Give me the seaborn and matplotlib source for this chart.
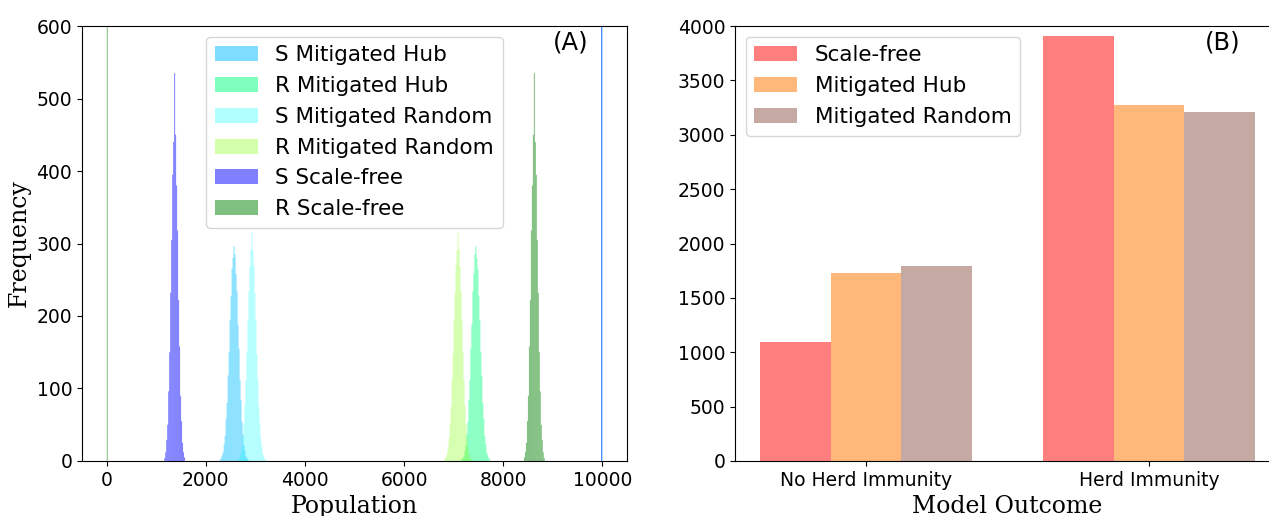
import numpy as np
import pandas as pd
import matplotlib
matplotlib.use("Agg")
import matplotlib.pyplot as plt
from matplotlib.patches import Patch
import seaborn as sns

# ---------------- data: panel (A) histograms (bin width 20) ----------------
bin_width = 20
# S / R distributions for runs that reached herd immunity
s_hub_start = 2270
s_hub_counts = [2, 4, 8, 12, 23, 35, 58, 80, 118, 150, 195, 228, 265, 280, 296,
                285, 258, 234, 188, 155, 112, 84, 54, 37, 21, 14, 6, 4, 2]
r_hub_start = 7150
r_hub_counts = [2, 4, 6, 14, 21, 37, 54, 84, 112, 155, 188, 234, 258, 285, 296,
                280, 265, 228, 195, 150, 118, 80, 58, 35, 23, 12, 8, 4, 2]
s_rand_start = 2630
s_rand_counts = [1, 3, 6, 11, 19, 32, 51, 77, 111, 150, 193, 234, 268, 292, 315,
                 290, 270, 232, 195, 148, 113, 75, 52, 31, 20, 10, 6, 3, 1]
r_rand_start = 6790
r_rand_counts = [1, 3, 6, 10, 20, 31, 52, 75, 113, 148, 195, 232, 270, 290, 315,
                 292, 268, 234, 193, 150, 111, 77, 51, 32, 19, 11, 6, 3, 1]
s_sf_start = 1160
s_sf_counts = [4, 12, 29, 50, 96, 150, 232, 305, 395, 440, 535, 450, 380, 318,
               222, 158, 90, 55, 25, 12, 5]
r_sf_start = 8420
r_sf_counts = [5, 12, 25, 55, 90, 158, 222, 318, 380, 450, 535, 440, 395, 305,
               232, 150, 96, 50, 29, 12, 4]
# runs without herd immunity: S stays at ~10000, R stays near 0
s_no_herd = {"Scale-free": [1090], "Mitigated Hub": [1725], "Mitigated Random": [1790]}
r_no_herd = {"Scale-free": [1090], "Mitigated Hub": [], "Mitigated Random": []}
s_no_herd_start = 9980
r_no_herd_start = 0

hist_labels = ["S Mitigated Hub", "R Mitigated Hub", "S Mitigated Random",
               "R Mitigated Random", "S Scale-free", "R Scale-free"]
hist_colors = ["deepskyblue", "springgreen", "cyan", "chartreuse", "blue", "green"]
hist_alphas = [0.5, 0.5, 0.3, 0.33, 0.5, 0.5]

# ---------------- data: panel (B) bars ----------------
outcomes = ["No Herd Immunity", "Herd Immunity"]
models = ["Scale-free", "Mitigated Hub", "Mitigated Random"]
scale_free_vals = [1090, 3910]
hub_vals = [1725, 3275]
random_vals = [1790, 3210]
bar_colors = ["red", "tab:orange", "tab:brown"]
bar_alphas = [0.5, 0.55, 0.5]

# ---------------- figure ----------------
plt.rcParams["font.family"] = ["DejaVu Sans"]
fig = plt.figure(figsize=(12.69, 5.16), dpi=100)
axA = fig.add_axes([0.0646, 0.1066, 0.4295, 0.843])
axB = fig.add_axes([0.5792, 0.1066, 0.4295, 0.843])


def centers_of(start, counts):
    return start + bin_width / 2 + bin_width * np.arange(len(counts))


def series(start, counts, spike_start, spike_counts):
    x = np.concatenate([centers_of(start, counts), centers_of(spike_start, spike_counts)])
    w = np.concatenate([np.asarray(counts, float), np.asarray(spike_counts, float)])
    return pd.DataFrame({"value": x, "count": w})

hist_series = [
    series(s_hub_start, s_hub_counts, s_no_herd_start, s_no_herd["Mitigated Hub"]),
    series(r_hub_start, r_hub_counts, r_no_herd_start, r_no_herd["Mitigated Hub"]),
    series(s_rand_start, s_rand_counts, s_no_herd_start, s_no_herd["Mitigated Random"]),
    series(r_rand_start, r_rand_counts, r_no_herd_start, r_no_herd["Mitigated Random"]),
    series(s_sf_start, s_sf_counts, s_no_herd_start, s_no_herd["Scale-free"]),
    series(r_sf_start, r_sf_counts, r_no_herd_start, r_no_herd["Scale-free"]),
]

for d, c, a in zip(hist_series, hist_colors, hist_alphas):
    sns.histplot(data=d, x="value", weights="count", binwidth=bin_width,
                 binrange=(0, 10000), color=c, alpha=a, linewidth=0, ax=axA)
for p in axA.patches:
    p.set_snap(False)

axA.set_xlim(-500, 10500)
axA.set_ylim(0, 600)
axA.set_xticks(np.arange(0, 10001, 2000))
axA.set_yticks(np.arange(0, 601, 100))
axA.tick_params(labelsize=13.5)
axA.set_xlabel("Population", family="DejaVu Serif", fontsize=17)
axA.set_ylabel("Frequency", family="DejaVu Serif", fontsize=17)
handlesA = [Patch(facecolor=c, alpha=a, label=l)
            for l, c, a in zip(hist_labels, hist_colors, hist_alphas)]
axA.legend(handles=handlesA, loc="upper center", fontsize=15.5)
axA.text(0.897, 0.961, "(A)", transform=axA.transAxes, fontsize=17.5,
         ha="center", va="center")

df = pd.DataFrame({
    "Outcome": outcomes * 3,
    "Model": [m for m in models for _ in outcomes],
    "Count": scale_free_vals + hub_vals + random_vals,
})
sns.barplot(data=df, x="Outcome", y="Count", hue="Model", order=outcomes,
            hue_order=models, palette=bar_colors, saturation=1,
            width=0.75, ax=axB, linewidth=0, errorbar=None, legend=False)
for cont, a in zip(axB.containers, bar_alphas):
    for p in cont:
        p.set_alpha(a)
axB.set_xlim(-0.4625, 1.4625)
axB.set_ylim(0, 4000)
axB.set_yticks(np.arange(0, 4001, 500))
axB.tick_params(labelsize=13.5)
axB.set_xlabel("Model Outcome", family="DejaVu Serif", fontsize=17)
axB.set_ylabel("")
handlesB = [Patch(facecolor=c, alpha=a, label=m)
            for m, c, a in zip(models, bar_colors, bar_alphas)]
axB.legend(handles=handlesB, loc="upper left", fontsize=15.5)
axB.text(0.894, 0.961, "(B)", transform=axB.transAxes, fontsize=17.5,
         ha="center", va="center")

fig.savefig("out.png", dpi=100)
